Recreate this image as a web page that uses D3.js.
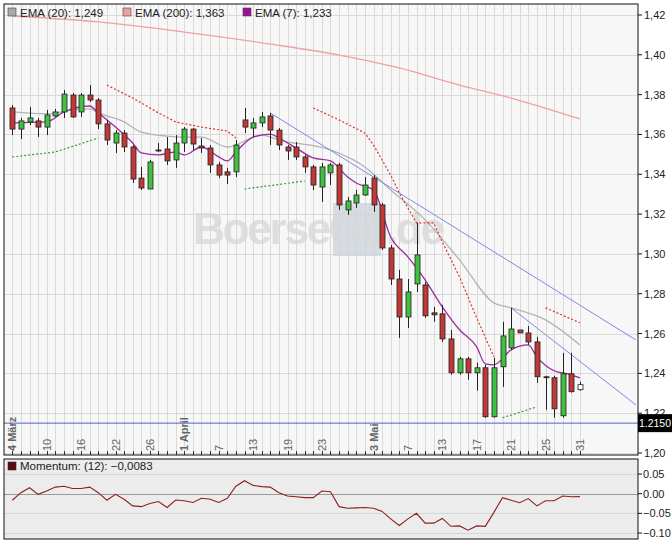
<!DOCTYPE html>
<html><head><meta charset="utf-8">
<script src="https://cdn.jsdelivr.net/npm/d3@7"></script>
<style>body{margin:0;background:#fff}svg{display:block;font-family:"Liberation Sans",Arial,sans-serif}</style>
</head><body>
<svg id="chart" width="672" height="540"></svg>
<script>
// candles: [open, high, low, close]
const candles = [
  [1.3733,1.3748,1.3597,1.3627],[1.3627,1.3683,1.3577,1.3668],[1.3663,1.3738,1.3647,1.3683],[1.3668,1.3683,1.3587,1.3637],
  [1.3637,1.3723,1.3597,1.3698],[1.3693,1.3728,1.3688,1.3713],[1.3713,1.3823,1.3683,1.3803],[1.3798,1.3808,1.3683,1.3688],
  [1.3713,1.3808,1.3688,1.3798],[1.3798,1.3848,1.3763,1.3773],[1.3773,1.3783,1.3627,1.3653],[1.3653,1.3673,1.3547,1.3572],
  [1.3557,1.3622,1.3507,1.3607],[1.3607,1.3622,1.3512,1.3537],[1.3537,1.3547,1.3356,1.3376],[1.3381,1.3437,1.3321,1.3331],
  [1.3326,1.3472,1.3326,1.3462],[1.3522,1.3557,1.3512,1.3521],[1.3527,1.3587,1.3447,1.3467],[1.3472,1.3597,1.3432,1.3557],
  [1.3557,1.3637,1.3512,1.3627],[1.3627,1.3632,1.3522,1.3552],[1.3542,1.3582,1.3507,1.3532],[1.3532,1.3547,1.3407,1.3447],
  [1.3447,1.3462,1.3381,1.3396],[1.3412,1.3432,1.3351,1.3396],[1.3412,1.3572,1.3386,1.3547],[1.3673,1.3733,1.3607,1.3637],
  [1.3632,1.3683,1.3587,1.3658],[1.3658,1.3713,1.3637,1.3688],[1.3693,1.3708,1.3547,1.3622],[1.3622,1.3632,1.3522,1.3547],
  [1.3537,1.3547,1.3472,1.3517],[1.3537,1.3562,1.3472,1.3487],[1.3487,1.3497,1.3407,1.3437],[1.3437,1.3447,1.3321,1.3346],
  [1.3336,1.3457,1.3261,1.3437],[1.3407,1.3457,1.3346,1.3447],[1.3447,1.3457,1.3221,1.3246],[1.3221,1.3286,1.3196,1.3266],
  [1.3256,1.3321,1.3231,1.3296],[1.3296,1.3386,1.3291,1.3346],[1.3381,1.3396,1.3211,1.3246],[1.3246,1.3256,1.3020,1.3030],
  [1.3030,1.3045,1.2844,1.2874],[1.2874,1.2920,1.2578,1.2683],[1.2683,1.2874,1.2628,1.2809],[1.2849,1.3156,1.2809,1.2995],
  [1.2844,1.2859,1.2679,1.2689],[1.2704,1.2734,1.2659,1.2694],[1.2699,1.2744,1.2558,1.2573],[1.2573,1.2618,1.2393,1.2403],
  [1.2403,1.2483,1.2393,1.2473],[1.2473,1.2483,1.2368,1.2403],[1.2403,1.2453,1.2313,1.2428],[1.2428,1.2443,1.2177,1.2182],
  [1.2182,1.2478,1.2177,1.2428],[1.2433,1.2659,1.2332,1.2588],[1.2528,1.2729,1.2518,1.2623],[1.2618,1.2618,1.2603,1.2603],
  [1.2603,1.2638,1.2543,1.2558],[1.2558,1.2583,1.2353,1.2383],[1.2383,1.2388,1.2217,1.2378],[1.2378,1.2388,1.2177,1.2222],
  [1.2187,1.2503,1.2177,1.2398],[1.2398,1.2503,1.2303,1.2308],[1.2318,1.2358,1.2313,1.2343]
];
// EMA readings [index, value]
const ema7 = [[0,1.3658],[4,1.3663],[6,1.3713],[9,1.3743],[10,1.3708],[12,1.3637],[14,1.3557],[15,1.3507],[17,1.3497],[19,1.3512],
  [20,1.3497],[22,1.3537],[24,1.3487],[25,1.3467],[26,1.3512],[28,1.3587],[30,1.3602],[31,1.3582],[33,1.3532],[35,1.3482],
  [37,1.3467],[39,1.3386],[40,1.3356],[42,1.3321],[44,1.3085],[46,1.2985],[48,1.2870],[50,1.2734],[52,1.2619],[54,1.2533],
  [55,1.2448],[56,1.2443],[58,1.2518],[60,1.2543],[61,1.2483],[63,1.2413],[65,1.2393],[66,1.2377]];
const ema20 = [[0,1.3713],[4,1.3703],[7,1.3723],[9,1.3728],[10,1.3708],[13,1.3663],[15,1.3612],[18,1.3592],[20,1.3587],[22,1.3587],
  [25,1.3537],[29,1.3597],[31,1.3572],[37,1.3522],[41,1.3437],[44,1.3321],[48,1.3171],[52,1.2970],[56,1.2754],[58,1.2729],
  [62,1.2669],[66,1.2543]];
const ema200 = [[0,1.4195],[10,1.4165],[20,1.4114],[30,1.4054],[38,1.3999],[45,1.3934],[52,1.3848],[58,1.3783],[66,1.3678]];
// stop lines (dotted)
const redStops = [
  [[11,1.3848],[14,1.3783],[17,1.3708],[19,1.3663],[22,1.3637],[25,1.3617],[26,1.3582]],
  [[35,1.3733],[38,1.3673],[41,1.3607],[42,1.3547],[43,1.3472],[44,1.3396],[45,1.3306],[47,1.3156],[49,1.3156],[50,1.3060],[52,1.2885],[54,1.2679],[56,1.2483]],
  [[62,1.2729],[66,1.2654]]
];
const greenStops = [
  [[0,1.3487],[5,1.3512],[10,1.3582]],
  [[27,1.3326],[34,1.3366]],
  [[57,1.2177],[61,1.2232]]
];
const trendLines = [[[30,1.3708],[72.5,1.2568]],[[58,1.2729],[72.5,1.2242]]];
const markLevel = 1.2150;
const momentum = [-0.0167,0.0025,0.015,-0.0017,0.0067,0.0167,0.019,0.0133,0.0133,0.0167,0.0025,-0.0167,-0.0017,-0.0142,-0.031,-0.033,
  -0.025,-0.02,-0.035,-0.016,-0.018,-0.0225,-0.0117,-0.0142,-0.0225,-0.0117,0.019,0.033,0.021,0.018,0.0167,0.0025,-0.006,-0.008,
  -0.01,-0.01,0.0067,0.005,-0.033,-0.037,-0.036,-0.035,-0.037,-0.045,-0.064,-0.081,-0.064,-0.05,-0.075,-0.075,-0.063,-0.083,
  -0.082,-0.093,-0.082,-0.083,-0.0475,-0.01,-0.0167,-0.023,-0.0125,-0.031,-0.018,-0.018,-0.006,-0.008,-0.0075];
const dateLabels = [[0,"4 März",true],[4,"10"],[8,"16"],[12,"22"],[16,"26"],[20,"1 April",true],[24,"7"],[28,"13"],[32,"19"],
  [36,"23"],[42,"3 Mai",true],[46,"7"],[50,"13"],[54,"17"],[58,"21"],[62,"25"],[66,"31"]];
const priceTicks = [1.20,1.22,1.24,1.26,1.28,1.30,1.32,1.34,1.36,1.38,1.40,1.42];
const momTicks = [0.05,0,-0.05,-0.10];

const svg = d3.select("#chart");
const L = 4, R = 638, T = 4, B = 455, MT = 459, MB = 539;
const x = d3.scaleLinear().domain([0,66]).range([12.3,12.3+8.6*66]);
const y = d3.scaleLinear().domain([1.20,1.42]).range([453,15]);
const ym = d3.scaleLinear().domain([-0.10,0.05]).range([533,474]);
const fmt = v => d3.format(".2f")(v).replace(".", ",");

svg.append("rect").attr("x",L).attr("y",T).attr("width",R-L).attr("height",B-T).attr("fill","#f7f7f7");
const grid = svg.append("g").attr("stroke","#dadada").attr("stroke-width",1);
grid.selectAll(".v").data(d3.range(67)).join("line")
  .attr("x1",d=>Math.round(x(d))+0.5).attr("x2",d=>Math.round(x(d))+0.5).attr("y1",T).attr("y2",B);
grid.selectAll(".h").data(priceTicks).join("line")
  .attr("x1",L).attr("x2",R).attr("y1",d=>Math.round(y(d))+0.5).attr("y2",d=>Math.round(y(d))+0.5);

// watermark
svg.append("rect").attr("x",333).attr("y",203).attr("width",48).attr("height",53).attr("fill","#c9d1da").attr("opacity",0.75);
svg.append("text").attr("x",193).attr("y",244).attr("font-size",44).attr("font-weight","bold")
  .attr("fill","#d8d8d8").attr("opacity",0.8).attr("textLength",252).text("BoerseGo.de");

// bottom ticks
svg.append("g").attr("stroke","#333").selectAll("line").data(d3.range(67)).join("line")
  .attr("x1",d=>Math.round(x(d))+0.5).attr("x2",d=>Math.round(x(d))+0.5).attr("y1",B-4).attr("y2",B);

// date labels
svg.append("g").selectAll("text").data(dateLabels).join("text")
  .attr("transform",d=>`translate(${x(d[0])+4},${B-4}) rotate(-90)`)
  .attr("font-size",11).attr("fill","#666").attr("font-weight",d=>d[2]?"bold":"normal").text(d=>d[1]);

const line = d3.line().x(d=>x(d[0])).y(d=>y(d[1])).curve(d3.curveMonotoneX);
svg.append("path").attr("d",line(ema200)).attr("fill","none").attr("stroke","#f0a0a0").attr("stroke-width",1.3);
svg.append("path").attr("d",line(ema20)).attr("fill","none").attr("stroke","#b4b4b4").attr("stroke-width",1.3);
svg.append("path").attr("d",line(ema7)).attr("fill","none").attr("stroke","#9b2c9b").attr("stroke-width",1.3);

const sl = d3.line().x(d=>x(d[0])).y(d=>y(d[1]));
redStops.forEach(s=>svg.append("path").attr("d",sl(s)).attr("fill","none").attr("stroke","#e03030").attr("stroke-width",1.2).attr("stroke-dasharray","2,2"));
greenStops.forEach(s=>svg.append("path").attr("d",sl(s)).attr("fill","none").attr("stroke","#3a9a3a").attr("stroke-width",1.2).attr("stroke-dasharray","2,2"));

svg.append("clipPath").attr("id","pc").append("rect").attr("x",L).attr("y",T).attr("width",R-L).attr("height",B-T);
trendLines.forEach(s=>svg.append("path").attr("d",sl(s)).attr("clip-path","url(#pc)").attr("stroke","#8088e0").attr("stroke-width",1).attr("fill","none"));
svg.append("line").attr("x1",L).attr("x2",R).attr("y1",y(markLevel)).attr("y2",y(markLevel)).attr("stroke","#5060c8").attr("stroke-width",1);

// candles
const cg = svg.append("g").selectAll("g").data(candles).join("g");
cg.append("line").attr("x1",(d,i)=>Math.round(x(i))+0.5).attr("x2",(d,i)=>Math.round(x(i))+0.5)
  .attr("y1",d=>y(d[1])).attr("y2",d=>y(d[2])).attr("stroke","#222");
cg.append("rect").attr("x",(d,i)=>Math.round(x(i))-2).attr("width",5)
  .attr("y",d=>y(Math.max(d[0],d[3]))).attr("height",d=>Math.max(1,Math.abs(y(d[0])-y(d[3]))))
  .attr("fill",(d,i)=>i===66?"#fff":(d[3]<d[0]?"#c03838":"#40c040")).attr("stroke","#222").attr("stroke-width",0.8);

// legend
const leg = [["#a8a8a8","EMA (20): 1,249",8],["#f0a0a0","EMA (200): 1,363",123],["#9b0f9b","EMA (7): 1,233",243]];
leg.forEach(l=>{
  svg.append("rect").attr("x",l[2]).attr("y",8).attr("width",8).attr("height",8).attr("fill",l[0]).attr("stroke","#444").attr("stroke-width",0.6);
  svg.append("text").attr("x",l[2]+12).attr("y",16.5).attr("font-size",11.5).attr("fill","#222").text(l[1]);
});

svg.append("rect").attr("x",L).attr("y",T).attr("width",R-L).attr("height",B-T).attr("fill","none").attr("stroke","#111");

// right axis
const ra = svg.append("g").selectAll("g").data(priceTicks).join("g");
ra.append("line").attr("x1",R).attr("x2",R+4).attr("y1",d=>y(d)).attr("y2",d=>y(d)).attr("stroke","#111");
ra.append("text").attr("x",R+6).attr("y",d=>y(d)+4).attr("font-size",11).attr("fill","#222").text(fmt);
svg.append("rect").attr("x",R).attr("y",y(markLevel)-9).attr("width",672-R).attr("height",18).attr("fill","#000");
svg.append("text").attr("x",R+1).attr("y",y(markLevel)+4).attr("font-size",11).attr("fill","#fff")
  .attr("textLength",32).attr("lengthAdjust","spacingAndGlyphs").text(d3.format(".4f")(markLevel));

// momentum panel
svg.append("rect").attr("x",L).attr("y",MT).attr("width",R-L).attr("height",MB-MT).attr("fill","#ececec");
svg.append("g").selectAll("line").data(momTicks).join("line")
  .attr("x1",L).attr("x2",R).attr("y1",d=>Math.round(ym(d))+0.5).attr("y2",d=>Math.round(ym(d))+0.5)
  .attr("stroke",d=>d===0?"#999":"#d6d6d6");
svg.append("path").attr("d",d3.line().x((d,i)=>x(i)).y(d=>ym(d))(momentum)).attr("fill","none").attr("stroke","#8b2020").attr("stroke-width",1.1);
svg.append("rect").attr("x",8).attr("y",462).attr("width",8).attr("height",8).attr("fill","#5a0a0a").attr("stroke","#333").attr("stroke-width",0.6);
svg.append("text").attr("x",20).attr("y",470).attr("font-size",11.5).attr("fill","#222").text("Momentum: (12): −0,0083");
svg.append("rect").attr("x",L).attr("y",MT).attr("width",R-L).attr("height",MB-MT).attr("fill","none").attr("stroke","#111");
const ma = svg.append("g").selectAll("g").data(momTicks).join("g");
ma.append("line").attr("x1",R).attr("x2",R+4).attr("y1",d=>ym(d)).attr("y2",d=>ym(d)).attr("stroke","#111");
ma.append("text").attr("x",R+5).attr("y",d=>ym(d)+4).attr("font-size",11).attr("fill","#222").text(d=>d3.format(".2f")(d).replace("-","−"));
</script>
</body></html>
